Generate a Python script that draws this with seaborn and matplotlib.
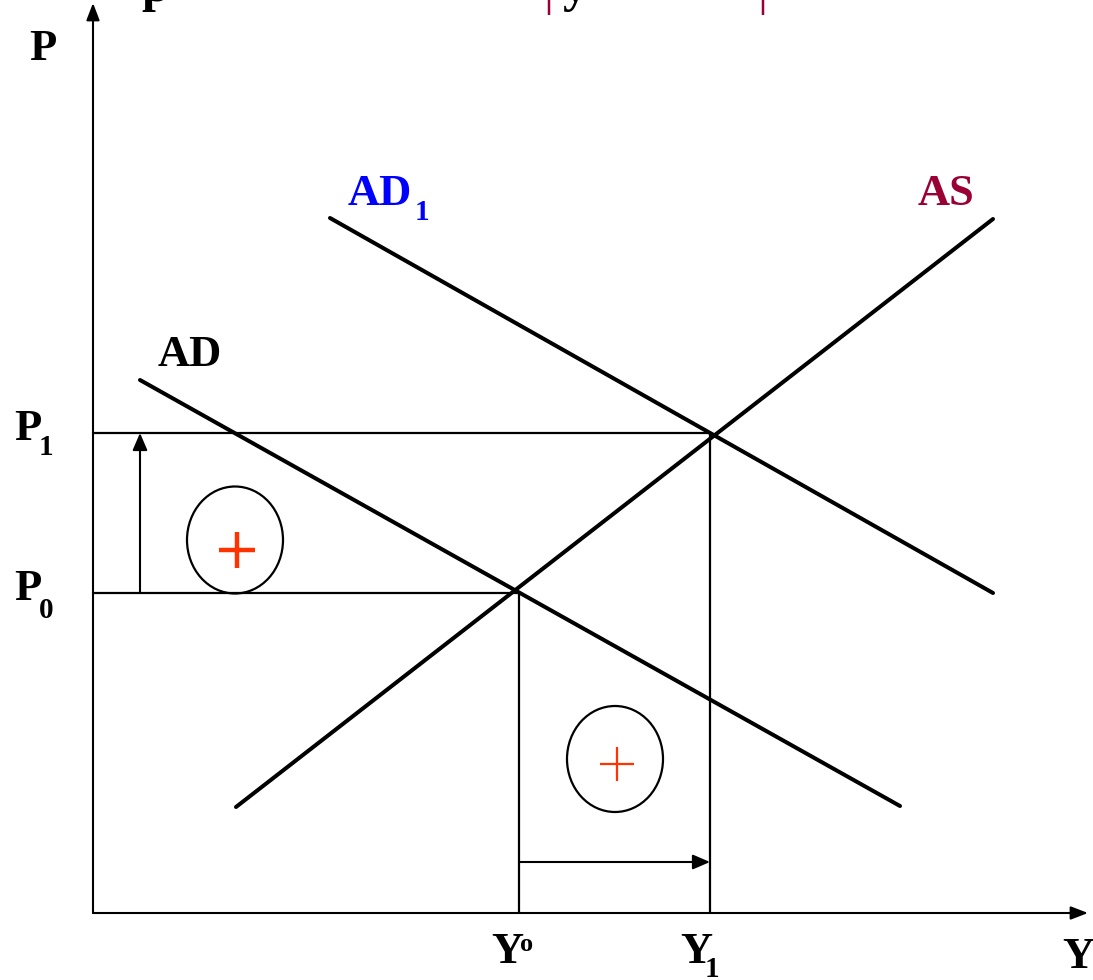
import matplotlib
matplotlib.use("Agg")
import matplotlib.pyplot as plt
from matplotlib.patches import Ellipse
import seaborn as sns
import pandas as pd

# AD-AS diagram, coordinates in output (Y) / price level (P) units
ad_y = [47, 807]
ad_p = [533, 107]
ad1_y = [237, 900]
ad1_p = [695, 320]
as_y = [143, 900]
as_p = [106, 694]

y0, y1 = 426, 617
p0, p1 = 320, 480

curves = pd.DataFrame({
    "Y": ad_y + ad1_y + as_y,
    "P": ad_p + ad1_p + as_p,
    "curve": ["AD"] * 2 + ["AD1"] * 2 + ["AS"] * 2,
})

sns.set_style("white")
plt.rcParams["font.family"] = ["Liberation Serif", "DejaVu Serif"]
plt.rcParams["font.weight"] = "bold"
plt.rcParams["text.color"] = "black"

fig = plt.figure(figsize=(10.93, 9.8), dpi=100)
ax = fig.add_axes([0, 0, 1, 1])
ax.set_xlim(-93, 1000)
ax.set_ylim(-67, 913)
ax.axis("off")

sns.lineplot(data=curves, x="Y", y="P", units="curve", estimator=None,
             color="black", linewidth=2.9, sort=False, ax=ax)

# axes with arrowheads
arr = dict(arrowstyle="-|>,head_length=0.65,head_width=0.25", color="black",
           lw=1.5, mutation_scale=16, shrinkA=0, shrinkB=0)
ax.annotate("", xy=(0, 910), xytext=(0, 0), arrowprops=arr)
ax.annotate("", xy=(995, 0), xytext=(0, 0), arrowprops=arr)

# guide lines
guide = dict(color="black", lw=1.6)
ax.plot([0, y1], [p1, p1], **guide)
ax.plot([0, y0], [p0, p0], **guide)
ax.plot([y0, y0], [0, p0], **guide)
ax.plot([y1, y1], [0, p1], **guide)

# shift arrows
small = dict(arrowstyle="-|>,head_length=0.65,head_width=0.28", color="black",
             lw=1.5, mutation_scale=16, shrinkA=0, shrinkB=0)
ax.annotate("", xy=(47, p1), xytext=(47, p0), arrowprops=small)
ax.annotate("", xy=(y1, 51), xytext=(y0, 51), arrowprops=small)

# circled plus signs
ax.add_patch(Ellipse((142, 373), 96, 107, fill=False, ec="black", lw=1.6))
ax.add_patch(Ellipse((522, 154), 96, 106, fill=False, ec="black", lw=1.6))
ax.plot([144], [363], marker="+", color="#FF3300", markersize=26, mew=3.2)
ax.plot([524], [149], marker="+", color="#FF3300", markersize=25, mew=1.6)

big = 32
sub = 21
kw = dict(fontweight="bold", va="baseline", ha="left")
ax.text(-64, 853, "P", fontsize=big, color="black", **kw)
ax.text(-79, 473, "P", fontsize=big, color="black", **kw)
ax.text(-54, 458, "1", fontsize=sub, color="black", **kw)
ax.text(-79, 313, "P", fontsize=big, color="black", **kw)
ax.text(-54, 295, "0", fontsize=sub, color="black", **kw)
ax.text(65, 547, "AD", fontsize=big, color="black", **kw)
ax.text(255, 708, "AD", fontsize=big, color="#0000FF", **kw)
ax.text(322, 693, "1", fontsize=sub, color="#0000FF", **kw)
ax.text(825, 708, "AS", fontsize=big, color="#990033", **kw)
ax.text(398, -50, "Y", fontsize=big, color="black", **kw)
ax.text(427, -38, "o", fontsize=19, color="black", **kw)
ax.text(587, -50, "Y", fontsize=big, color="black", **kw)
ax.text(612, -64, "1", fontsize=sub, color="black", **kw)
ax.text(969, -55, "Y", fontsize=big, color="black", **kw)

# clipped title line at the very top
top = dict(fontsize=36, va="baseline", ha="center", clip_on=False)
ax.text(62, 912, "p", fontweight="bold", color="black", **top)
ax.text(455, 909, "|", color="#990033", fontweight="normal", **top)
ax.text(482, 912, "y", fontweight="bold", color="black", **top)
ax.text(669, 909, "|", color="#990033", fontweight="normal", **top)

fig.savefig("out.png", dpi=100)
